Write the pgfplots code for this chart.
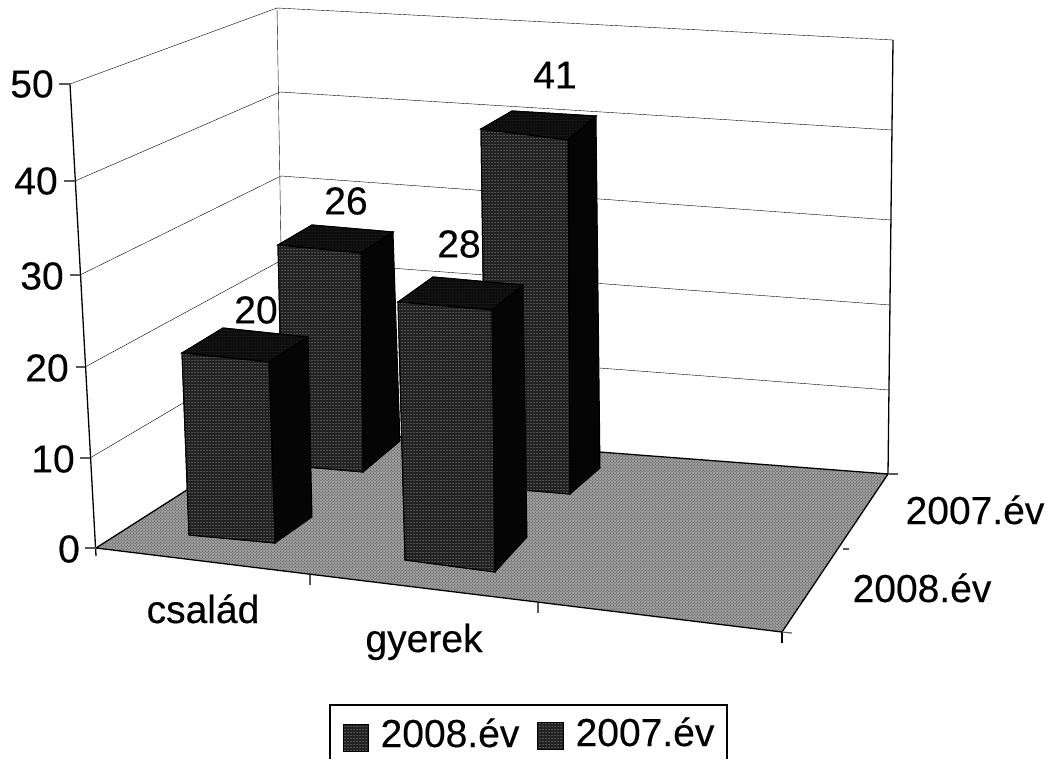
\documentclass[border=0pt]{standalone}
\usepackage{pgfplots}
\pgfplotsset{compat=1.18}
\usepackage{fontspec}
\setmainfont{Liberation Sans}
\usetikzlibrary{patterns}
\definecolor{frontc}{gray}{0.13}
\definecolor{sidec}{gray}{0.02}
\definecolor{topc}{gray}{0.05}
\definecolor{floorc}{gray}{0.62}
\tikzset{
  front/.style={fill=frontc,draw=black,line width=1pt,postaction={pattern=dots,pattern color=white!70!black}},
  side/.style={fill=sidec,draw=black,line width=1pt},
  topf/.style={fill=topc,draw=black,line width=1pt,postaction={pattern=dots,pattern color=gray!40!black}},
  floorf/.style={fill=floorc,draw=none,postaction={pattern=crosshatch dots,pattern color=black!75}},
  grid/.style={draw=black!85,line width=1.1pt},
  axl/.style={draw=black,line width=1.3pt},
  tk/.style={draw=black!65,line width=1.2pt},
  lab/.style={font=\fontsize{39}{39}\selectfont\addfontfeature{FakeBold=0.35},inner sep=0pt,text=black}
}
\begin{document}
\begin{tikzpicture}
\begin{axis}[
  scale only axis,width=1051pt,height=759pt,
  xmin=0,xmax=1051,ymin=0,ymax=759,y dir=reverse,
  axis lines=none,clip=false,no markers,
  every axis plot/.append style={mark=none,solid}
]
% page frame
\addplot[draw=none,fill=white] coordinates {(0,0)(1051,0)(1051,759)(0,759)} -- cycle;
% gridlines: left wall -> back corner -> right wall (50,40,30,20,10)
\addplot[grid] coordinates {(70,84)(277,8)(893,40)};
\addplot[grid] coordinates {(75,181)(280,92)(892,130)};
\addplot[grid] coordinates {(80,275)(281,176)(891,220)};
\addplot[grid] coordinates {(85,367)(282,260)(890,305)};
\addplot[grid] coordinates {(90,458)(283,344)(889,390)};
% vertical wall edges
\addplot[axl] coordinates {(70,84)(96,556)};
\addplot[grid] coordinates {(277,8)(284,428)};
\addplot[axl] coordinates {(893,40)(888,474)};
% floor
\addplot[floorf] coordinates {(96,548)(284,428)(888,474)(782,632)} -- cycle;
\addplot[draw=black,line width=1.3pt] coordinates {(96,548)(284,428)(888,474)(782,632)(96,548)};
% axis ticks
\addplot[tk] coordinates {(59,84)(70,84)};
\addplot[tk] coordinates {(64,181)(75,181)};
\addplot[tk] coordinates {(70,275)(80,275)};
\addplot[tk] coordinates {(76,367)(85,367)};
\addplot[tk] coordinates {(80,458)(90,458)};
\addplot[tk] coordinates {(85,548)(96,548)};
\addplot[tk] coordinates {(310,575)(310,585)};
\addplot[tk] coordinates {(538,603)(538,613)};
\addplot[axl] coordinates {(782,632)(782,643)};
\addplot[tk] coordinates {(782,632)(792,633)};
\addplot[tk] coordinates {(843,549)(849,549)};
\addplot[tk] coordinates {(888,474)(898,474)};
% bar 2007 csalad (26)
\addplot[topf] coordinates {(278,245)(312,225)(393,232)(361,253)} -- cycle;
\addplot[side] coordinates {(361,253)(393,232)(400,441)(363,472)} -- cycle;
\addplot[front] coordinates {(278,245)(361,253)(363,472)(283,465)} -- cycle;
% bar 2007 gyerek (41)
\addplot[topf] coordinates {(481,129)(512,111)(596,116)(568,140)} -- cycle;
\addplot[side] coordinates {(568,140)(596,116)(600,468)(570,494)} -- cycle;
\addplot[front] coordinates {(481,129)(568,140)(570,494)(486,487)} -- cycle;
% bar 2008 csalad (20)
\addplot[topf] coordinates {(182,353)(223,328)(308,337)(269,362)} -- cycle;
\addplot[side] coordinates {(269,362)(308,337)(312,517)(275,543)} -- cycle;
\addplot[front] coordinates {(182,353)(269,362)(275,543)(189,535)} -- cycle;
% bar 2008 gyerek (28)
\addplot[topf] coordinates {(398,302)(433,277)(523,285)(492,310)} -- cycle;
\addplot[side] coordinates {(492,310)(523,285)(527,537)(495,572)} -- cycle;
\addplot[front] coordinates {(398,302)(492,310)(495,572)(405,560)} -- cycle;
% legend frame (bottom edge falls off the scan) and keys
\addplot[draw=black,line width=1.2pt] coordinates {(330,759)(330,705)(727,705)(727,759)};
\addplot[front] coordinates {(343,724)(368,724)(368,751)(343,751)} -- cycle;
\addplot[front] coordinates {(537,722)(563,722)(563,749)(537,749)} -- cycle;
% tick labels
\node[lab] at (axis cs:32,84) {50};
\node[lab] at (axis cs:36,181) {40};
\node[lab] at (axis cs:42,276) {30};
\node[lab] at (axis cs:47,368) {20};
\node[lab] at (axis cs:53,459) {10};
\node[lab] at (axis cs:69,549) {0};
% data labels
\node[lab] at (axis cs:256,310) {20};
\node[lab] at (axis cs:346,201) {26};
\node[lab] at (axis cs:459,244) {28};
\node[lab] at (axis cs:555,75) {41};
% categories
\node[lab,anchor=base] at (axis cs:203,623) {család};
\node[lab,anchor=base] at (axis cs:424,652) {gyerek};
\node[lab,anchor=base] at (axis cs:975,524) {2007.év};
\node[lab,anchor=base] at (axis cs:922,602) {2008.év};
% legend text
\node[lab,anchor=base] at (axis cs:450,747) {2008.év};
\node[lab,anchor=base] at (axis cs:645,746) {2007.év};
\end{axis}
\end{tikzpicture}
\end{document}
